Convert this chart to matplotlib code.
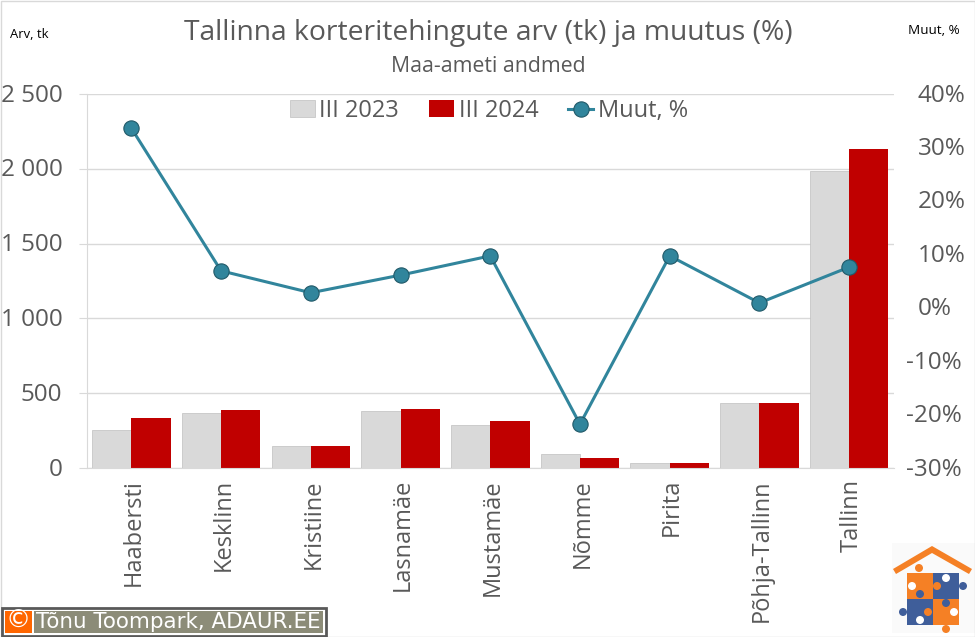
import numpy as np
import matplotlib
matplotlib.use("Agg")
import matplotlib.pyplot as plt
from matplotlib.patches import Rectangle, Polygon, Ellipse
from matplotlib.transforms import ScaledTranslation

categories = ["Haabersti", "Kesklinn", "Kristiine", "Lasnamäe", "Mustamäe", "Nõmme", "Pirita", "Põhja-Tallinn", "Tallinn"]
values_2023 = [254, 368, 147, 381, 287, 94, 33, 434, 1985]
values_2024 = [334, 388, 147, 394, 314, 67, 34, 436, 2132]
change_pct = [33.6, 6.9, 2.8, 6.1, 9.7, -21.8, 9.7, 0.9, 7.6]
left_ticks = [0, 500, 1000, 1500, 2000, 2500]
left_labels = ["0", "500", "1 000", "1 500", "2 000", "2 500"]
right_ticks = [-30, -20, -10, 0, 10, 20, 30, 40]

W, H = 975, 637
GREY = "#595959"
plt.rcParams["font.family"] = ["Open Sans", "DejaVu Sans"]
fig = plt.figure(figsize=(W / 100, H / 100), dpi=100)
L, R, T, B = 86.5, 894, 94, 468
ax = fig.add_axes([L / W, 1 - B / H, (R - L) / W, (B - T) / H])
x = np.arange(len(categories))
bw = 0.438

def shift(label, dx, dy):
    label.set_transform(label.get_transform() + ScaledTranslation(dx / 100, dy / 100, fig.dpi_scale_trans))

b1 = ax.bar(x - bw / 2, values_2023, bw, color="#D9D9D9", edgecolor="#BFBFBF", linewidth=0.5, label="III 2023", zorder=2)
b2 = ax.bar(x + bw / 2, values_2024, bw, color="#C00000", label="III 2024", zorder=2)
ax.set_xlim(-0.5, len(categories) - 0.5)
ax.set_ylim(0, 2500)
ax.set_yticks(left_ticks, left_labels, fontsize=17.5, color=GREY)
ax.set_xticks(x, categories, rotation=90, fontsize=17, color=GREY)
ax.grid(axis="y", color="#D9D9D9", lw=1, zorder=0)
ax.tick_params(axis="y", length=5.8, color="#D9D9D9", pad=11.5)
ax.tick_params(axis="x", length=0, pad=8)
for s in ["top", "right"]:
    ax.spines[s].set_visible(False)
for s in ["left", "bottom"]:
    ax.spines[s].set_color("#D9D9D9")
for lab in ax.get_yticklabels():
    shift(lab, 0, 1.5)
for lab in ax.get_xticklabels():
    shift(lab, 2.5, 0)

ax2 = ax.twinx()
line, = ax2.plot(x, change_pct, color="#31859C", lw=2.2, marker="o", ms=11,
                 mfc="#31859C", mec="#215968", mew=0.8, label="Muut, %", zorder=5)
ax2.set_ylim(-30, 40)
ax2.set_yticks(right_ticks, [f"{v}%" for v in right_ticks], fontsize=17.5, color=GREY)
ax2.tick_params(axis="y", length=0, pad=8.6)
for s in ax2.spines.values():
    s.set_visible(False)
for v, lab in zip(right_ticks, ax2.get_yticklabels()):
    shift(lab, 0 if v < 0 else 12, 1.5)

fig.legend(handles=[b1, b2, line], loc="center", bbox_to_anchor=(489 / W, 1 - 111 / H), ncol=3,
           frameon=False, fontsize=17, handlelength=1.05, handletextpad=0.2, columnspacing=1.27,
           labelcolor=GREY, borderaxespad=0, borderpad=0)

def t(px, py, s, **kw):
    return fig.text(px / W, 1 - py / H, s, **kw)

t(488, 33, "Tallinna korteritehingute arv (tk) ja muutus (%)", ha="center", va="center", fontsize=20.3, color=GREY)
t(488, 66, "Maa-ameti andmed", ha="center", va="center", fontsize=15.3, color=GREY)
t(10, 34, "Arv, tk", ha="left", va="center", fontsize=9.4, color="black")
t(960, 30, "Muut, %", ha="right", va="center", fontsize=9.7, color="black")

def rect(x0, y0, w, h, **kw):
    fig.add_artist(Rectangle((x0 / W, 1 - (y0 + h) / H), w / W, h / H, transform=fig.transFigure, **kw))

# figure border
rect(0.5, 0.5, W - 1, H - 1, fc="none", ec="#D9D9D9", lw=1)
# copyright badge
rect(2, 608, 324, 27.5, fc="#FFFFFF", ec="#595959", lw=2)
rect(5, 611, 27, 21.5, fc="#FF6600", ec="none")
rect(34, 611, 289, 21.5, fc="#8C8C78", ec="none")
t(18, 621, "©", ha="center", va="center", fontsize=18, color="white", family="DejaVu Sans")
t(36, 621.5, "Tõnu Toompark, ADAUR.EE", ha="left", va="center", fontsize=15.4, color="white", family="DejaVu Sans")

# house logo
OR, BL = "#F58025", "#3F5E9A"
rect(892, 543, 83, 90, fc="#FAFAFA", ec="none", zorder=0)
def poly(pts, c):
    fig.add_artist(Polygon([(a / W, 1 - b / H) for a, b in pts], closed=True, fc=c, ec="none", transform=fig.transFigure))
def blob(px, py, r, c):
    fig.add_artist(Ellipse((px / W, 1 - py / H), 2 * r / W, 2 * r / H, fc=c, ec="none", transform=fig.transFigure))
poly([(893, 569), (932, 546), (972, 569), (969, 574), (932, 553), (896, 574)], OR)
rect(907, 573, 26, 26, fc=OR, ec="none")
rect(933, 573, 26, 26, fc=BL, ec="none")
rect(907, 599, 26, 26, fc=BL, ec="none")
rect(933, 599, 26, 26, fc=OR, ec="none")
for px, py, r, c in [(919, 568, 4, OR), (912, 586, 4, "white"), (937, 586, 4, OR), (946, 578, 4, "white"),
                     (963, 586, 4, BL), (920, 594, 4, BL), (903, 612, 4, BL), (928, 612, 4, OR),
                     (946, 603, 4, BL), (954, 612, 4, "white"), (920, 620, 4, "white"), (946, 629, 4, OR)]:
    blob(px, py, r, c)

fig.savefig("out.png", dpi=100)
